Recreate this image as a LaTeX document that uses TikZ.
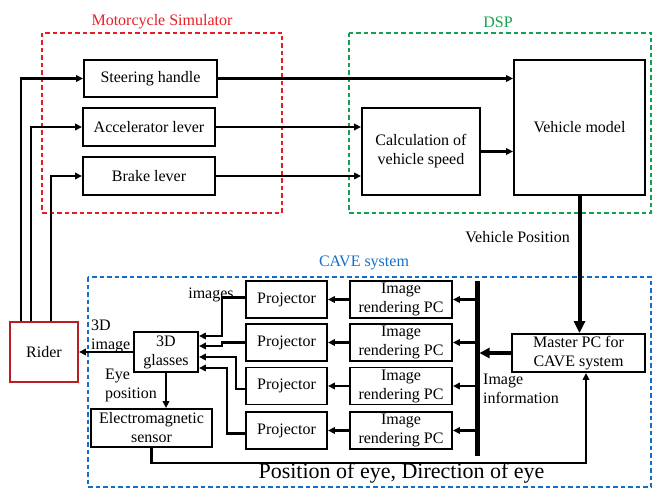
\documentclass[tikz,border=0pt]{standalone}
\usepackage{fontspec}
\setmainfont{Liberation Serif}
\usetikzlibrary{arrows.meta,calc}
\definecolor{simred}{RGB}{232,30,36}
\definecolor{dspgreen}{RGB}{20,160,80}
\definecolor{caveblue}{RGB}{20,110,200}
\definecolor{riderred}{RGB}{185,30,35}
\tikzset{
  blk/.style={draw=black, line width=1.9pt, fill=white, inner sep=0pt, align=center,
    font=\fontsize{16}{19}\selectfont},
  grp/.style={line width=1.5pt, dash pattern=on 4.5pt off 3pt},
  arr/.style={line width=2.2pt, -{Triangle[length=7pt,width=6.5pt]}},
  lbl/.style={inner sep=0pt, font=\fontsize{16}{19}\selectfont},
}
\begin{document}
\begin{tikzpicture}[x=1pt,y=-1pt]
\useasboundingbox (0,0) rectangle (653,489);

% group frames
\draw[grp, draw=simred]   (42,33) rectangle (282,213);
\draw[grp, draw=dspgreen] (349,33) rectangle (651,213);
\draw[grp, draw=caveblue] (88,277) rectangle (651,487);
\node[lbl, text=simred]   (simlbl)  at (162,22)  {Motorcycle Simulator};
\node[lbl, text=dspgreen] (dsplbl)  at (498,22)  {DSP};
\node[lbl, text=caveblue] (cavelbl) at (364,263) {CAVE system};

% motorcycle simulator inputs
\node[blk, minimum width=133, minimum height=37] (steer) at (150.5,78.5) {Steering handle};
\node[blk, minimum width=132, minimum height=38] (accel) at (149,127)  {Accelerator lever};
\node[blk, minimum width=132, minimum height=38] (brake) at (149,176)  {Brake lever};

% DSP blocks
\node[blk, minimum width=118, minimum height=87]  (calc) at (421,151.5) {Calculation of\\vehicle speed};
\node[blk, minimum width=131, minimum height=135] (vm)   at (579.5,127.5) {Vehicle model};

% rider
\node[blk, draw=riderred, minimum width=68, minimum height=60] (rider) at (44,352) {Rider};

% CAVE system blocks
\foreach \i/\y in {1/299.5, 2/342.5, 3/386, 4/430.5} {
  \node[blk, minimum width=81, minimum height=37]  (proj\i) at (286.5,\y) {Projector};
  \node[blk, minimum width=102, minimum height=37] (ir\i)   at (401,\y)   {Image\\rendering PC};
}
\node[blk, minimum width=133, minimum height=38] (master)  at (578.5,353) {Master PC for\\CAVE system};
\node[blk, minimum width=64,  minimum height=40] (glasses) at (166,352)   {3D\\glasses};
\node[blk, minimum width=121, minimum height=38] (sensor)  at (151.5,428) {Electromagnetic\\sensor};

% distribution bus
\coordinate (bustop) at (477,281);
\coordinate (busbot) at (477,456);
\draw[line width=5pt] (bustop) -- (busbot);

% rider -> simulator
\draw[arr] ([xshift=12pt]rider.north west) |- (steer.west);
\draw[arr] ([xshift=22pt]rider.north west) |- (accel.west);
\draw[arr] ([xshift=42pt]rider.north west) |- (brake.west);

% simulator -> DSP
\draw[arr] (steer.east) -- (steer.east -| vm.west);
\draw[arr] (accel.east) -- (accel.east -| calc.west);
\draw[arr] (brake.east) -- (brake.east -| calc.west);
\draw[arr] (calc.east) -- (calc.east -| vm.west);

% DSP -> CAVE
\draw[line width=4pt, -{Triangle[length=12pt,width=11pt]}] (vm.south) -- (vm.south |- master.north);
\node[lbl, anchor=east] (vpos) at (570,237) {Vehicle Position};
\draw[line width=4pt, -{Triangle[length=10pt,width=10pt]}] (master.west) -- ([xshift=2.5pt]master.west -| bustop);
\node[lbl, anchor=north west, align=left] (iminfo) at (483,374) {Image\\information};

% bus -> rendering PCs -> projectors
\foreach \i in {1,...,4} {
  \draw[arr] ([xshift=-2.5pt]ir\i.east -| bustop) -- (ir\i.east);
  \draw[arr] (ir\i.west) -- (proj\i.east);
}

% projectors -> 3D glasses
\draw[arr] ([yshift=2pt]proj1.west) -| (222,336) -- (glasses.east |- 0,336);
\draw[arr] (proj2.west) -| (222,346) -- (glasses.east |- 0,346);
\draw[arr] ([yshift=-3pt]proj3.west) -| (236,357) -- (glasses.east |- 0,357);
\draw[arr] ([yshift=-3pt]proj4.west) -| (227,368) -- (glasses.east |- 0,368);
\node[lbl] (imgs) at (211,295) {images};

% glasses -> rider, glasses -> sensor
\draw[arr] (glasses.west) -- (glasses.west -| rider.east);
\node[lbl, anchor=south west, align=left] (img3d) at (91,353) {3D\\image};
\draw[arr] (glasses.south) -- (glasses.south |- sensor.north);
\node[lbl, anchor=north west, align=left] (eyepos) at (105,369) {Eye\\position};

% sensor -> master PC
\draw[arr] (sensor.south) -- ++(0,15) -| ([xshift=7.5pt]master.south);
\node[inner sep=0pt, anchor=base, font=\fontsize{22}{26}\selectfont] (poseye) at (401.5,478) {Position of eye, Direction of eye};
\end{tikzpicture}
\end{document}
